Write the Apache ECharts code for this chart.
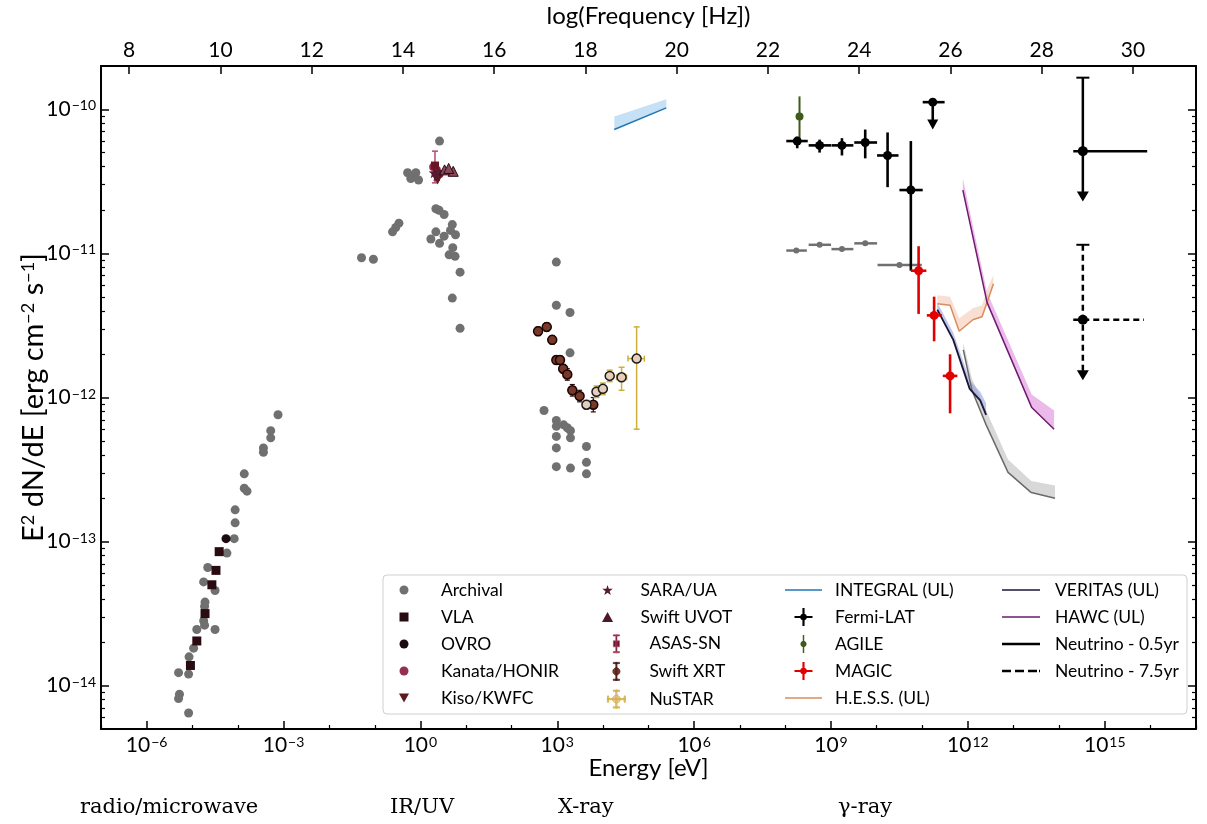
<!DOCTYPE html>
<html><head><meta charset="utf-8">
<script src="https://cdn.jsdelivr.net/npm/echarts@6/dist/echarts.min.js"></script>
<style>html,body{margin:0;padding:0;background:#fff}#c{width:1207px;height:824px}</style>
</head><body><div id="c"></div>
<script>
// ---- data: [log10(E/eV), log10(E^2 dN/dE / erg cm^-2 s^-1)] ----
const LOG_INV_H = 14.3835; // log10(Hz per eV)
const xTickLabels = [-6, -3, 0, 3, 6, 9, 12, 15];
const yTickLabels = [-14, -13, -12, -11, -10];
const freqTickLabels = [8, 10, 12, 14, 16, 18, 20, 22, 24, 26, 28, 30];

const archivalRadio = [[-3.12,-12.12],[-3.28,-12.23],[-3.28,-12.28],[-3.44,-12.35],[-3.44,-12.38],[-3.86,-12.53],[-3.86,-12.63],[-3.80,-12.65],[-4.06,-12.78],[-4.06,-12.87],[-4.08,-12.98],[-4.24,-13.08],[-4.66,-13.18],[-4.75,-13.28],[-4.50,-13.34],[-4.72,-13.42],[-4.73,-13.45],[-4.75,-13.55],[-4.73,-13.58],[-4.90,-13.61],[-4.50,-13.61],[-4.97,-13.74],[-5.07,-13.80],[-5.30,-13.91],[-5.08,-13.92],[-5.28,-14.06],[-5.30,-14.09],[-5.08,-14.19]];
const archivalIRUV = [[0.42,-10.22],[-0.28,-10.44],[-0.21,-10.48],[-0.10,-10.44],[-0.04,-10.49],[0.34,-10.69],[0.41,-10.70],[0.52,-10.73],[-0.47,-10.79],[-0.54,-10.82],[-0.61,-10.85],[0.34,-10.85],[0.23,-10.90],[0.52,-10.88],[0.42,-10.93],[0.70,-10.80],[0.66,-10.84],[0.77,-10.87],[0.71,-10.96],[0.63,-11.01],[0.76,-11.02],[0.87,-11.13],[0.70,-11.31],[0.87,-11.52],[-1.29,-11.03],[-1.03,-11.04]];
const archivalXray = [[2.98,-11.06],[2.98,-11.36],[3.28,-11.41],[3.28,-11.69],[2.71,-12.09],[2.98,-12.16],[2.98,-12.20],[3.14,-12.19],[3.22,-12.21],[3.29,-12.23],[2.98,-12.27],[3.29,-12.28],[2.98,-12.35],[3.64,-12.34],[2.98,-12.48],[3.29,-12.49],[3.64,-12.45],[3.64,-12.53]];
// [E, F, Elo, Ehi]
const archivalGammaBins = [[8.24,-10.98,8.02,8.47],[8.75,-10.94,8.51,9.00],[9.24,-10.97,9.01,9.49],[9.75,-10.93,9.51,10.01],[10.50,-11.08,10.02,10.99]];

const vla = [[-4.41,-13.07],[-4.48,-13.20],[-4.57,-13.30],[-4.72,-13.50],[-4.90,-13.69],[-5.04,-13.86]];
const ovro = [[-4.26,-12.98]];
const kanata = [[0.28,-10.40],[0.36,-10.42],[0.42,-10.45]];
const kiso = [[0.33,-10.47],[0.38,-10.49]];
const sara = [[0.30,-10.44],[0.36,-10.46],[0.40,-10.43]];
const uvot = [[0.53,-10.42],[0.72,-10.43],[0.62,-10.41]];
// [E, F, Elo, Ehi, Flo, Fhi]
const asassn = [[0.32,-10.39,0.32,0.32,-10.51,-10.29]];
const swiftXrt = [[2.58,-11.54,2.54,2.62,-11.57,-11.51],[2.77,-11.51,2.73,2.81,-11.54,-11.48],[2.89,-11.60,2.85,2.93,-11.63,-11.57],[2.98,-11.74,2.95,3.01,-11.77,-11.71],[3.06,-11.74,3.03,3.09,-11.77,-11.71],[3.13,-11.80,3.10,3.16,-11.83,-11.77],[3.22,-11.84,3.19,3.25,-11.88,-11.80],[3.33,-11.95,3.29,3.37,-11.99,-11.91],[3.49,-11.99,3.45,3.53,-12.03,-11.95],[3.79,-12.05,3.75,3.83,-12.10,-12.00]];
const nustar = [[3.64,-12.05,3.58,3.70,-12.08,-12.02],[3.86,-11.96,3.80,3.92,-12.00,-11.92],[4.00,-11.94,3.94,4.06,-11.98,-11.90],[4.15,-11.85,4.07,4.23,-11.89,-11.81],[4.41,-11.86,4.30,4.52,-11.95,-11.79],[4.74,-11.73,4.55,4.91,-12.22,-11.51]];
const integralLine = [[4.25,-10.14],[5.39,-9.99]];
const integralBandTop = [[4.25,-10.05],[5.39,-9.93]];
const fermi = [[8.26,-10.22,8.02,8.49,-10.27,-10.19],[8.75,-10.25,8.51,9.00,-10.30,-10.21],[9.24,-10.25,9.01,9.49,-10.32,-10.20],[9.75,-10.23,9.51,10.01,-10.34,-10.14],[10.24,-10.32,10.01,10.48,-10.54,-10.16],[10.75,-10.56,10.50,11.01,-11.12,-10.22]];
// [E, F, Elo, Ehi, Farrow]
const fermiUL = [[11.23,-9.95,11.01,11.49,-10.14]];
const agile = [[8.31,-10.05,8.31,8.31,-10.21,-9.91]];
const magic = [[10.92,-11.12,10.75,11.09,-11.42,-10.95],[11.26,-11.43,11.10,11.43,-11.61,-11.30],[11.61,-11.85,11.45,11.77,-12.11,-11.70]];
const hessLine = [[11.33,-11.35],[11.61,-11.36],[11.81,-11.54],[12.11,-11.46],[12.31,-11.44],[12.42,-11.34],[12.56,-11.21]];
const hessBandTop = [[11.33,-11.29],[11.61,-11.30],[11.81,-11.45],[12.11,-11.38],[12.31,-11.36],[12.42,-11.25],[12.56,-11.15]];
const veritasLine = [[11.33,-11.39],[11.68,-11.60],[12.04,-11.94],[12.27,-12.02],[12.40,-12.12]];
const veritasBandTop = [[11.33,-11.34],[11.68,-11.55],[12.04,-11.88],[12.27,-11.96],[12.40,-12.04]];
const grayLine = [[11.90,-11.67],[12.09,-11.95],[12.40,-12.19],[12.88,-12.52],[13.39,-12.66],[13.91,-12.70]];
const grayBandTop = [[11.90,-11.62],[12.09,-11.87],[12.40,-12.09],[12.88,-12.43],[13.39,-12.58],[13.91,-12.61]];
const hawcLine = [[11.89,-10.56],[12.42,-11.34],[13.40,-12.07],[13.89,-12.22]];
const hawcBandTop = [[11.89,-10.48],[12.42,-11.27],[13.40,-11.98],[13.89,-12.09]];
// [E, F, Elo, Ehi, Fcap, Farrow]
const neutrino05 = [[14.52,-10.29,14.31,15.93,-9.78,-10.64]];
const neutrino75 = [[14.52,-11.46,14.31,15.86,-10.94,-11.88]];

// ---- helpers ----
const FONT = 'Lato';
function supLabel(v){ return '{b|10}{s|' + String(v).replace('-', '−') + '}'; }
const labelRich = { b:{fontSize:21, fontFamily:FONT, color:'#000'}, s:{fontSize:14, fontFamily:FONT, color:'#000', verticalAlign:'top', padding:[0,0,0,1]} };
function ln(a,b,st){ return {type:'line', shape:{x1:a[0],y1:a[1],x2:b[0],y2:b[1]}, style:Object.assign({},st)}; }
function errRender(color, width, cap, dash){
  return function(params, api){
    const E=api.value(0),F=api.value(1),El=api.value(2),Eh=api.value(3),Fl=api.value(4),Fh=api.value(5);
    const st={stroke:color,lineWidth:width,lineDash:dash||null};
    const ch=[];
    if (Eh>El){ const a=api.coord([El,F]), b=api.coord([Eh,F]); ch.push(ln(a,b,st));
      if(cap){ ch.push(ln([a[0],a[1]-cap],[a[0],a[1]+cap],st)); ch.push(ln([b[0],b[1]-cap],[b[0],b[1]+cap],st)); } }
    if (Fh>Fl){ const a=api.coord([E,Fl]), b=api.coord([E,Fh]); ch.push(ln(a,b,st));
      if(cap){ ch.push(ln([a[0]-cap,a[1]],[a[0]+cap,a[1]],st)); ch.push(ln([b[0]-cap,b[1]],[b[0]+cap,b[1]],st)); } }
    return {type:'group', children:ch};
  };
}
function ulRender(color, width){
  return function(params, api){
    const E=api.value(0),F=api.value(1),El=api.value(2),Eh=api.value(3),Fa=api.value(4);
    const st={stroke:color,lineWidth:width};
    const a=api.coord([El,F]), b=api.coord([Eh,F]), p=api.coord([E,F]), t=api.coord([E,Fa]);
    return {type:'group', children:[ln(a,b,st), ln(p,[t[0],t[1]-8],st),
      {type:'polygon', shape:{points:[[t[0]-5.5,t[1]-10],[t[0]+5.5,t[1]-10],[t[0],t[1]]]}, style:{fill:color}}]};
  };
}
function nuRender(dash){
  return function(params, api){
    const E=api.value(0),F=api.value(1),El=api.value(2),Eh=api.value(3),Fc=api.value(4),Fa=api.value(5);
    const st={stroke:'#000',lineWidth:2.5,lineDash:dash};
    const a=api.coord([El,F]), b=api.coord([Eh,F]), p=api.coord([E,F]), c=api.coord([E,Fc]), t=api.coord([E,Fa]);
    return {type:'group', children:[ln(a,b,st), ln(c,[t[0],t[1]-9],st),
      ln([c[0]-6.5,c[1]],[c[0]+6.5,c[1]],{stroke:'#000',lineWidth:2}),
      {type:'polygon', shape:{points:[[t[0]-6,t[1]-10],[t[0]+6,t[1]-10],[t[0],t[1]]]}, style:{fill:'#000'}},
      {type:'circle', shape:{cx:p[0],cy:p[1],r:5}, style:{fill:'#000'}}]};
  };
}
function bandSeries(name, lower, upper, color, z){
  return {type:'custom', name:name, z:z, silent:true, data:[lower[0]], encode:{x:0,y:1},
    renderItem:function(params, api){
      const pts = lower.map(p=>api.coord(p)).concat(upper.slice().reverse().map(p=>api.coord(p)));
      return {type:'polygon', shape:{points:pts}, style:{fill:color}};
    }};
}
function lineSeries(name, data, color, width, z){
  return {type:'line', name:name, data:data, symbol:'none', z:z, silent:true, itemStyle:{color:color}, lineStyle:{color:color, width:width}};
}
function scatterSeries(name, data, symbol, size, color, border, bw, z){
  return {type:'scatter', name:name, data:data.map(d=>[d[0],d[1]]), symbol:symbol, symbolSize:size, z:z, silent:true,
    itemStyle:{color:color, borderColor:border||color, borderWidth:bw||0, opacity:1}};
}
function customSeries(name, data, render, z){
  return {type:'custom', name:name, data:data, renderItem:render, z:z, silent:true, encode:{x:0,y:1}};
}
function circ(cx,cy,r){ let s=''; for(let i=0;i<20;i++){const a=i/20*2*Math.PI; s+=(i?'L':'M')+(cx+r*Math.cos(a)).toFixed(2)+','+(cy+r*Math.sin(a)).toFixed(2);} return s+'Z'; }
function rc(x,y,w,h){ return 'M'+x+','+y+'H'+(x+w)+'V'+(y+h)+'H'+x+'Z'; }
const starPath = 'path://M5,0L6.2,3.5L10,3.6L7,5.9L8.1,9.5L5,7.4L1.9,9.5L3,5.9L0,3.6L3.8,3.5Z';
const triDownPath = 'path://M0,0L10,0L5,9Z';
const triUpPath = 'path://M5,0L10,9L0,9Z';
const squarePath = 'path://M0,0H10V10H0Z';
const crossIcon = 'path://' + rc(0,8.8,20,2.4) + rc(8.8,0,2.4,20) + circ(10,10,3.8);
const agileIcon = 'path://' + rc(9.2,0,1.6,20) + circ(10,10,3.4);
const asasIcon = 'path://' + rc(9.3,0,1.4,20) + rc(6.5,0,7,1.4) + rc(6.5,18.6,7,1.4) + rc(6.6,6.6,6.8,6.8);
const xrtIcon = 'path://' + rc(9.3,0,1.4,20) + rc(6.5,0,7,1.4) + rc(6.5,18.6,7,1.4) + circ(10,10,4);
const nustarIcon = 'path://' + rc(0,9.3,20,1.4) + rc(0,6.5,1.4,7) + rc(18.6,6.5,1.4,7) + rc(9.3,0,1.4,20) + rc(6.5,0,7,1.4) + rc(6.5,18.6,7,1.4) + circ(10,10,4.3);
const solidIcon = 'path://' + rc(0,0,38,2.5);
const dashIcon = 'path://' + rc(0,0,9,2.5) + rc(13,0,9,2.5) + rc(26,0,9,2.5) + rc(37,0,1,2.5);
function lineIcon(w){ return 'path://' + rc(0,0,38,w); }

const archivalAll = archivalRadio.concat(archivalIRUV, archivalXray);
const archivalGammaErr = archivalGammaBins.map(d=>[d[0],d[1],d[2],d[3],d[1],d[1]]);

const GRAY='#707070';
const C = {integral:'#1f77b4', hess:'#d98c5f', veritas:'#16163a', hawc:'#6e1a6e'};
const series = [
  bandSeries('bandGray', grayLine, grayBandTop, 'rgba(190,190,190,0.6)', 1),
  bandSeries('bandVeritas', veritasLine, veritasBandTop, 'rgba(150,160,215,0.6)', 1),
  bandSeries('bandHawc', hawcLine, hawcBandTop, 'rgba(222,140,222,0.6)', 1),
  bandSeries('bandHess', hessLine, hessBandTop, 'rgba(245,200,180,0.6)', 1),
  bandSeries('bandIntegral', integralLine, integralBandTop, 'rgba(160,205,240,0.6)', 1),
  lineSeries('INTEGRAL (UL)', integralLine, C.integral, 1.5, 3),
  lineSeries('lineGray', grayLine, '#6a6a6a', 1.5, 3),
  lineSeries('H.E.S.S. (UL)', hessLine, C.hess, 1.5, 3),
  lineSeries('VERITAS (UL)', veritasLine, C.veritas, 1.8, 3),
  lineSeries('HAWC (UL)', hawcLine, C.hawc, 1.5, 3),
  scatterSeries('Archival', archivalAll, 'circle', 9, GRAY, null, 0, 2),
  customSeries('Archival', archivalGammaErr, errRender(GRAY, 2.5, 0), 2),
  scatterSeries('Archival', archivalGammaBins, 'circle', 6, GRAY, null, 0, 2),
  scatterSeries('VLA', vla, 'rect', 9, '#2b0b12', null, 0, 4),
  scatterSeries('OVRO', ovro, 'circle', 9, '#1c0a0e', null, 0, 4),
  scatterSeries('Kanata/HONIR', kanata, 'circle', 8, '#93304f', null, 0, 4),
  scatterSeries('Kiso/KWFC', kiso, triDownPath, 9, '#5c1a1f', null, 0, 4),
  scatterSeries('SARA/UA', sara, starPath, 11, '#5a1930', null, 0, 4),
  scatterSeries('Swift UVOT', uvot, 'triangle', 10, '#8a4a5a', '#2a0a14', 1, 4),
  customSeries('ASAS-SN', asassn, errRender('#b34a73', 1.5, 3), 4),
  scatterSeries('ASAS-SN', asassn, 'rect', 8, '#6a1428', null, 0, 5),
  customSeries('Swift XRT', swiftXrt, errRender('#2a0a0a', 1.2, 2.5), 4),
  scatterSeries('Swift XRT', swiftXrt, 'circle', 9, '#7a3829', '#1a0505', 1.5, 5),
  customSeries('NuSTAR', nustar, errRender('#cfae3a', 1.5, 3), 4),
  scatterSeries('NuSTAR', nustar, 'circle', 9, '#e6cdbd', '#1a1a1a', 1.5, 5),
  customSeries('AGILE', agile, errRender('#3e5a1c', 2, 0), 4),
  scatterSeries('AGILE', agile, 'circle', 8, '#3e5a1c', null, 0, 5),
  customSeries('Fermi-LAT', fermi, errRender('#000', 2.6, 0), 6),
  customSeries('Fermi-LAT', fermiUL, ulRender('#000', 2.6), 6),
  scatterSeries('Fermi-LAT', fermi.concat(fermiUL), 'circle', 9, '#000', null, 0, 6),
  customSeries('MAGIC', magic, errRender('#e00000', 2.6, 0), 7),
  scatterSeries('MAGIC', magic, 'circle', 9, '#e00000', null, 0, 7),
  customSeries('Neutrino - 0.5yr', neutrino05, nuRender(null), 6),
  customSeries('Neutrino - 7.5yr', neutrino75, nuRender([6,4]), 6)
];

// ticks
const xMinorTicks = []; for (let i=-7;i<=17;i++) if (xTickLabels.indexOf(i)<0) xMinorTicks.push(i);
const yMinorTicks = []; for (let d=-15; d<=-10; d++) for (let k=2;k<=9;k++){ const v=d+Math.log10(k); if (v>-14.301 && v<-9.699) yMinorTicks.push(v); }
const X0=-7, X1=17, Y0=-14.301, Y1=-9.699;
const axLine = {show:true, onZero:false, lineStyle:{color:'#000', width:2}};
const noLine = {show:false, onZero:false};
function xAx(pos, min, max, major, labels, extra){
  return Object.assign({type:'value', position:pos, min:min, max:max, splitLine:{show:false},
    axisLine: axLine, axisTick:{show:true, inside:true, length:8, lineStyle:{color:'#000', width:1.5}, customValues:major},
    axisLabel: labels ? labels : {show:false}}, extra||{});
}
const legendText = {fontSize:17.5, fontFamily:FONT, color:'#000', lineHeight:18};
function lg(left, top, w, h, pad, data){
  return {orient:'vertical', left:left, top:top, itemWidth:w, itemHeight:h, itemGap:9, padding:0, selectedMode:false,
    textStyle:Object.assign({}, legendText, {padding:[0,0,0,pad]}), data:data, z:10};
}

const option = {
  animation:false,
  backgroundColor:'#fff',
  grid:{left:101, right:11, top:66, bottom:95, outerBoundsMode:'none'},
  xAxis:[
    xAx('bottom', X0, X1, xTickLabels, {show:true, customValues:xTickLabels, margin:6, formatter:supLabel, rich:labelRich},
      {name:'Energy [eV]', nameLocation:'middle', nameGap:27, nameMoveOverlap:false, nameTextStyle:{fontSize:24, fontFamily:FONT, color:'#000'}}),
    xAx('bottom', X0, X1, xMinorTicks, null, {axisLine:noLine, axisTick:{show:true, inside:true, length:4, lineStyle:{color:'#000', width:1.2}, customValues:xMinorTicks}}),
    xAx('top', X0+LOG_INV_H, X1+LOG_INV_H, freqTickLabels, {show:true, customValues:freqTickLabels, margin:5, fontSize:21, fontFamily:FONT, color:'#000'},
      {name:'log(Frequency [Hz])', nameLocation:'middle', nameGap:38, nameMoveOverlap:false, nameTextStyle:{fontSize:24, fontFamily:FONT, color:'#000'}})
  ],
  yAxis:[
    {type:'value', position:'left', min:Y0, max:Y1, splitLine:{show:false}, axisLine:axLine,
     axisTick:{show:true, inside:true, length:8, lineStyle:{color:'#000', width:1.5}, customValues:yTickLabels},
     axisLabel:{show:true, customValues:yTickLabels, margin:5, formatter:supLabel, rich:labelRich},
     name:'E{s|2} dN/dE [erg cm{s|−2} s{s|−1}]', nameLocation:'middle', nameGap:53, nameRotate:90, nameMoveOverlap:false,
     nameTextStyle:{fontSize:29, fontFamily:FONT, color:'#000', rich:{s:{fontSize:18, fontFamily:FONT, color:'#000', verticalAlign:'top'}}}},
    {type:'value', position:'left', min:Y0, max:Y1, splitLine:{show:false}, axisLine:noLine,
     axisTick:{show:true, inside:true, length:4, lineStyle:{color:'#000', width:1.2}, customValues:yMinorTicks}, axisLabel:{show:false}},
    {type:'value', position:'right', min:Y0, max:Y1, splitLine:{show:false}, axisLine:axLine,
     axisTick:{show:true, inside:true, length:8, lineStyle:{color:'#000', width:1.5}, customValues:yTickLabels}, axisLabel:{show:false}},
    {type:'value', position:'right', min:Y0, max:Y1, splitLine:{show:false}, axisLine:noLine,
     axisTick:{show:true, inside:true, length:4, lineStyle:{color:'#000', width:1.2}, customValues:yMinorTicks}, axisLabel:{show:false}}
  ],
  legend:[
    lg(399, 581, 30, 9, 17, [
      {name:'Archival', icon:'circle', itemStyle:{color:GRAY, borderWidth:0}},
      {name:'VLA', icon:squarePath, itemStyle:{color:'#2b0b12', borderWidth:0}},
      {name:'OVRO', icon:'circle', itemStyle:{color:'#1c0a0e', borderWidth:0}},
      {name:'Kanata/HONIR', icon:'circle', itemStyle:{color:'#93304f', borderWidth:0}},
      {name:'Kiso/KWFC', icon:triDownPath, itemStyle:{color:'#5c1a1f', borderWidth:0}}]),
    lg(602, 581, 30, 10, 13, [
      {name:'SARA/UA', icon:starPath, itemStyle:{color:'#5a1930', borderWidth:0}},
      {name:'Swift UVOT', icon:triUpPath, itemStyle:{color:'#4c1a2a', borderWidth:0}}]),
    lg(607, 634.5, 30, 18, 13, [
      {name:'ASAS-SN', icon:asasIcon, itemStyle:{color:'#6a1428', borderColor:'#b34a73', borderWidth:0.6}},
      {name:'Swift XRT', icon:xrtIcon, itemStyle:{color:'#7f3a2c', borderColor:'#2a0a0a', borderWidth:0.6}},
      {name:'NuSTAR', icon:nustarIcon, itemStyle:{color:'#e6cdbd', borderColor:'#cfae3a', borderWidth:0.8}}]),
    lg(785, 581, 37, 18, 8, [
      {name:'INTEGRAL (UL)', icon:lineIcon(1.5), itemStyle:{color:C.integral, borderWidth:0}},
      {name:'Fermi-LAT', icon:crossIcon, itemStyle:{color:'#000', borderWidth:0}},
      {name:'AGILE', icon:agileIcon, itemStyle:{color:'#3e5a1c', borderWidth:0}},
      {name:'MAGIC', icon:crossIcon, itemStyle:{color:'#e00000', borderWidth:0}},
      {name:'H.E.S.S. (UL)', icon:lineIcon(1.5), itemStyle:{color:C.hess, borderWidth:0}}]),
    lg(1002, 581, 38, 18, 10, [
      {name:'VERITAS (UL)', icon:lineIcon(1.6), itemStyle:{color:C.veritas, borderWidth:0}},
      {name:'HAWC (UL)', icon:lineIcon(1.5), itemStyle:{color:C.hawc, borderWidth:0}},
      {name:'Neutrino - 0.5yr', icon:solidIcon, itemStyle:{color:'#000', borderWidth:0}},
      {name:'Neutrino - 7.5yr', icon:dashIcon, itemStyle:{color:'#000', borderWidth:0}}])
  ],
  graphic:[
    {type:'rect', z:3, shape:{x:383, y:575, width:804, height:139, r:4}, style:{fill:'rgba(255,255,255,0.85)', stroke:'#cfcfcf', lineWidth:1}},
    {type:'text', left:80, top:797, style:{text:'radio/microwave', font:'21px "DejaVu Serif"', fill:'#000'}},
    {type:'text', left:390, top:797, style:{text:'IR/UV', font:'21px "DejaVu Serif"', fill:'#000'}},
    {type:'text', left:558, top:797, style:{text:'X-ray', font:'21px "DejaVu Serif"', fill:'#000'}},
    {type:'text', left:838, top:797, style:{text:'γ-ray', font:'21px "DejaVu Serif"', fill:'#000'}}
  ],
  series: series.map(s=>Object.assign({xAxisIndex:0, yAxisIndex:0}, s))
};
const chart = echarts.init(document.getElementById('c'), null, {renderer:'canvas'});
chart.setOption(option);
</script></body></html>
